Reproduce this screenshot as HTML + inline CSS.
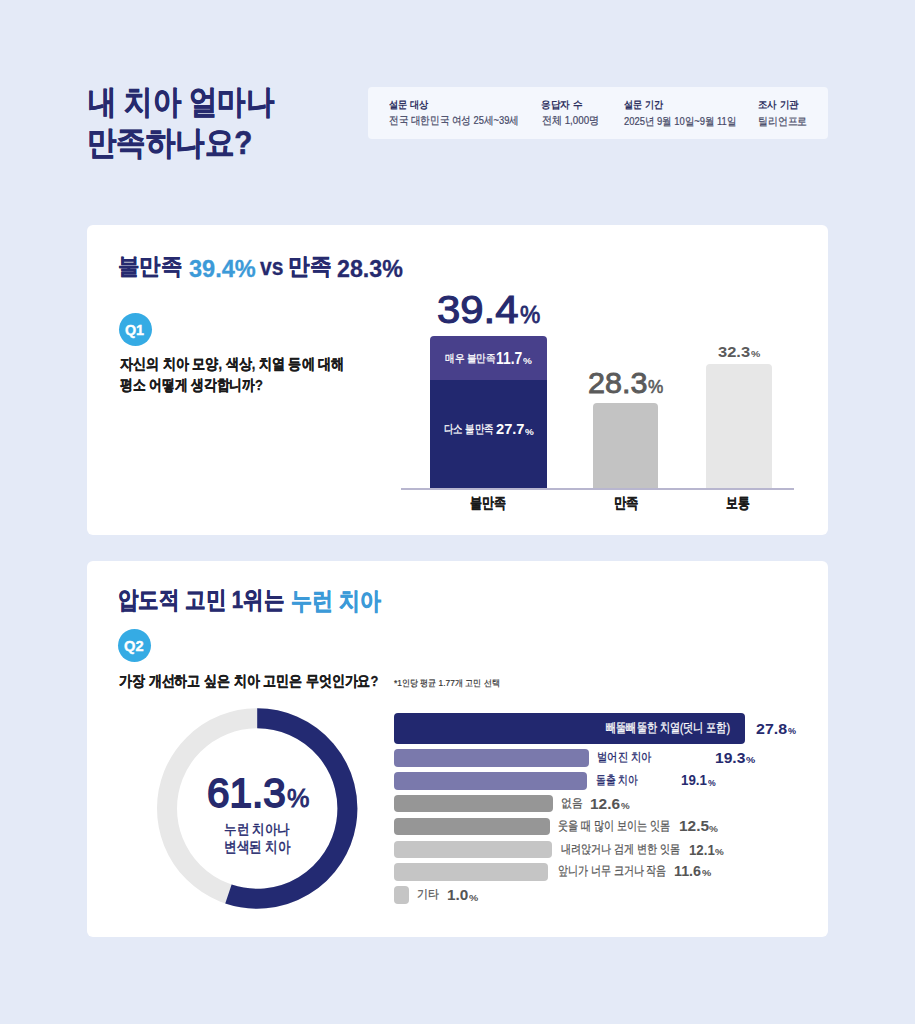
<!DOCTYPE html>
<html lang="ko"><head><meta charset="utf-8"><title>내 치아 얼마나 만족하나요?</title>
<style>
html,body{margin:0;padding:0}
body{width:915px;height:1024px;background:#e4eaf7;position:relative;overflow:hidden;font-family:"Liberation Sans",sans-serif}
.t div{position:absolute;line-height:1;white-space:nowrap;transform-origin:0 0}
</style></head><body>
<div style="position:absolute;left:368px;top:86.8px;width:460.00px;height:52.00px;background:#f4f7fd;border-radius:4px;"></div><div style="position:absolute;left:87px;top:225px;width:741.00px;height:310.00px;background:#ffffff;border-radius:6px;"></div><div style="position:absolute;left:87px;top:561px;width:741.00px;height:376.00px;background:#ffffff;border-radius:6px;"></div><div style="position:absolute;left:119px;top:313.3px;width:33.00px;height:33.00px;background:#35abe4;border-radius:50%;"></div><div style="position:absolute;left:117.6px;top:629.4px;width:33.00px;height:33.00px;background:#35abe4;border-radius:50%;"></div><div style="position:absolute;left:401.3px;top:488px;width:392.70px;height:2.00px;background:#b8b6cf;border-radius:0;"></div><div style="position:absolute;left:429.7px;top:336.4px;width:117.30px;height:43.20px;background:#48408b;border-radius:4px 4px 0 0;"></div><div style="position:absolute;left:429.7px;top:379.6px;width:117.30px;height:108.40px;background:#22286f;border-radius:0;"></div><div style="position:absolute;left:593px;top:402.9px;width:65.40px;height:85.10px;background:#c3c3c3;border-radius:4px 4px 0 0;"></div><div style="position:absolute;left:706.3px;top:363.5px;width:65.30px;height:124.50px;background:#e7e7e7;border-radius:4px 4px 0 0;"></div><div style="position:absolute;left:394.1px;top:713.4px;width:350.90px;height:30.40px;background:#22286f;border-radius:4px;"></div><div style="position:absolute;left:394.1px;top:749px;width:194.80px;height:17.80px;background:#7a79ac;border-radius:4px;"></div><div style="position:absolute;left:394.1px;top:772.3px;width:193.30px;height:17.40px;background:#7a79ac;border-radius:4px;"></div><div style="position:absolute;left:394.1px;top:794.8px;width:158.70px;height:17.70px;background:#969696;border-radius:4px;"></div><div style="position:absolute;left:394.1px;top:817.7px;width:155.90px;height:17.70px;background:#969696;border-radius:4px;"></div><div style="position:absolute;left:394.1px;top:840.5px;width:158.00px;height:17.70px;background:#c5c5c5;border-radius:4px;"></div><div style="position:absolute;left:394.1px;top:863.3px;width:154.40px;height:17.70px;background:#c5c5c5;border-radius:4px;"></div><div style="position:absolute;left:394.3px;top:886.3px;width:15.00px;height:17.50px;background:#c5c5c5;border-radius:4px;"></div>
<svg style="position:absolute;left:0;top:0" width="915" height="1024" viewBox="0 0 915 1024">
<circle cx="257.2" cy="808.5" r="90.2" fill="none" stroke="#e8e8e8" stroke-width="20"/>
<path d="M 257.2 718.3 A 90.2 90.2 0 1 1 228.43 893.99" fill="none" stroke="#232a72" stroke-width="20"/>
</svg>
<div class="t">
<div style="left:87.86px;top:85.23px;font-size:33.41px;transform:scaleX(0.860);font-weight:700;color:#262a6e;-webkit-text-stroke:0.6px #262a6e">내 치아 얼마나</div>
<div style="left:87.27px;top:125.85px;font-size:33.12px;transform:scaleX(0.893);font-weight:700;color:#262a6e;-webkit-text-stroke:0.6px #262a6e">만족하나요?</div>
<div style="left:388.51px;top:99.63px;font-size:10.38px;transform:scaleX(0.920);font-weight:700;color:#2d3060;-webkit-text-stroke:0px #2d3060">설문 대상</div>
<div style="left:388.69px;top:115.49px;font-size:10.67px;transform:scaleX(0.873);font-weight:400;color:#454866;-webkit-text-stroke:0.2px #454866">전국 대한민국 여성 25세~39세</div>
<div style="left:541.02px;top:99.63px;font-size:10.32px;transform:scaleX(0.964);font-weight:700;color:#2d3060;-webkit-text-stroke:0px #2d3060">응답자 수</div>
<div style="left:541.96px;top:115.48px;font-size:10.73px;transform:scaleX(0.909);font-weight:400;color:#454866;-webkit-text-stroke:0.2px #454866">전체 1,000명</div>
<div style="left:623.62px;top:99.63px;font-size:10.38px;transform:scaleX(0.910);font-weight:700;color:#2d3060;-webkit-text-stroke:0px #2d3060">설문 기간</div>
<div style="left:623.97px;top:116.09px;font-size:11.03px;transform:scaleX(0.856);font-weight:400;color:#454866;-webkit-text-stroke:0.2px #454866">2025년 9월 10일~9월 11일</div>
<div style="left:757.82px;top:99.63px;font-size:10.38px;transform:scaleX(0.949);font-weight:700;color:#2d3060;-webkit-text-stroke:0px #2d3060">조사 기관</div>
<div style="left:757.89px;top:116.12px;font-size:10.79px;transform:scaleX(0.894);font-weight:400;color:#454866;-webkit-text-stroke:0.2px #454866">틸리언프로</div>
<div style="left:118.49px;top:255.19px;font-size:23.33px;transform:scaleX(0.931);font-weight:700;color:#262a6e;-webkit-text-stroke:0.3px #262a6e">불만족</div>
<div style="left:188.51px;top:256.77px;font-size:24.51px;transform:scaleX(0.961);font-weight:700;color:#3c9ad8;-webkit-text-stroke:0.3px #3c9ad8">39.4%</div>
<div style="left:259.79px;top:255.28px;font-size:23.82px;transform:scaleX(0.883);font-weight:700;color:#262a6e;-webkit-text-stroke:0.3px #262a6e">vs</div>
<div style="left:287.82px;top:255.19px;font-size:23.33px;transform:scaleX(0.940);font-weight:700;color:#262a6e;-webkit-text-stroke:0.4px #262a6e">만족</div>
<div style="left:337.33px;top:256.77px;font-size:24.51px;transform:scaleX(0.948);font-weight:700;color:#262a6e;-webkit-text-stroke:0.3px #262a6e">28.3%</div>
<div style="left:125.17px;top:322.66px;font-size:14.56px;transform:scaleX(0.983);font-weight:700;color:#ffffff;-webkit-text-stroke:0.4px #ffffff">Q1</div>
<div style="left:119.67px;top:356.64px;font-size:14.73px;transform:scaleX(0.870);font-weight:700;color:#1b1b1b;-webkit-text-stroke:0.3px #1b1b1b">자신의 치아 모양, 색상, 치열 등에 대해</div>
<div style="left:119.68px;top:377.35px;font-size:15.32px;transform:scaleX(0.851);font-weight:700;color:#1b1b1b;-webkit-text-stroke:0.3px #1b1b1b">평소 어떻게 생각합니까?</div>
<div style="left:436.86px;top:291.20px;font-size:38.73px;transform:scaleX(1.081);font-weight:400;color:#262a6e;-webkit-text-stroke:1.1px #262a6e">39.4</div>
<div style="left:519.60px;top:302.83px;font-size:24.71px;transform:scaleX(0.924);font-weight:400;color:#262a6e;-webkit-text-stroke:0.8px #262a6e">%</div>
<div style="left:444.63px;top:352.65px;font-size:11.00px;transform:scaleX(0.871);font-weight:500;color:#ffffff;-webkit-text-stroke:0.3px #ffffff">매우 불만족</div>
<div style="left:496.20px;top:351.33px;font-size:15.65px;transform:scaleX(0.887);font-weight:700;color:#ffffff;-webkit-text-stroke:0px #ffffff">11.7</div>
<div style="left:523.15px;top:356.92px;font-size:8.51px;transform:scaleX(1.175);font-weight:700;color:#ffffff;-webkit-text-stroke:0px #ffffff">%</div>
<div style="left:443.96px;top:424.18px;font-size:11.56px;transform:scaleX(0.785);font-weight:500;color:#ffffff;-webkit-text-stroke:0.3px #ffffff">다소 불만족</div>
<div style="left:495.59px;top:421.28px;font-size:15.43px;transform:scaleX(0.949);font-weight:700;color:#ffffff;-webkit-text-stroke:0px #ffffff">27.7</div>
<div style="left:524.81px;top:428.14px;font-size:8.37px;transform:scaleX(1.178);font-weight:700;color:#ffffff;-webkit-text-stroke:0px #ffffff">%</div>
<div style="left:587.69px;top:368.27px;font-size:29.58px;transform:scaleX(1.031);font-weight:400;color:#5b5b5b;-webkit-text-stroke:0.9px #5b5b5b">28.3</div>
<div style="left:647.56px;top:378.37px;font-size:18.86px;transform:scaleX(0.911);font-weight:400;color:#5b5b5b;-webkit-text-stroke:0.6px #5b5b5b">%</div>
<div style="left:717.68px;top:344.37px;font-size:15.35px;transform:scaleX(1.073);font-weight:700;color:#5b5b5b;-webkit-text-stroke:0px #5b5b5b">32.3</div>
<div style="left:750.64px;top:350.06px;font-size:8.65px;transform:scaleX(1.211);font-weight:700;color:#5b5b5b;-webkit-text-stroke:0px #5b5b5b">%</div>
<div style="left:470.15px;top:495.63px;font-size:14.62px;transform:scaleX(0.802);font-weight:700;color:#1b1b1b;-webkit-text-stroke:0.25px #1b1b1b">불만족</div>
<div style="left:614.11px;top:495.63px;font-size:14.62px;transform:scaleX(0.822);font-weight:700;color:#1b1b1b;-webkit-text-stroke:0.25px #1b1b1b">만족</div>
<div style="left:726.14px;top:495.30px;font-size:15.03px;transform:scaleX(0.785);font-weight:700;color:#1b1b1b;-webkit-text-stroke:0.25px #1b1b1b">보통</div>
<div style="left:117.64px;top:588.44px;font-size:23.98px;transform:scaleX(0.853);font-weight:700;color:#262a6e;-webkit-text-stroke:0.6px #262a6e">압도적 고민 1위는</div>
<div style="left:290.73px;top:588.63px;font-size:24.11px;transform:scaleX(0.872);font-weight:700;color:#3c9ad8;-webkit-text-stroke:0.6px #3c9ad8">누런 치아</div>
<div style="left:124.22px;top:637.84px;font-size:15.06px;transform:scaleX(0.973);font-weight:700;color:#ffffff;-webkit-text-stroke:0.4px #ffffff">Q2</div>
<div style="left:118.62px;top:673.97px;font-size:14.92px;transform:scaleX(0.865);font-weight:700;color:#1b1b1b;-webkit-text-stroke:0.3px #1b1b1b">가장 개선하고 싶은 치아 고민은 무엇인가요?</div>
<div style="left:393.68px;top:678.85px;font-size:9.33px;transform:scaleX(0.892);font-weight:400;color:#333333;-webkit-text-stroke:0.2px #333333">*1인당 평균 1.77개 고민 선택</div>
<div style="left:207.23px;top:772.48px;font-size:41.55px;transform:scaleX(0.975);font-weight:400;color:#262a6e;-webkit-text-stroke:1.8px #262a6e">61.3</div>
<div style="left:286.50px;top:785.06px;font-size:26.29px;transform:scaleX(0.960);font-weight:400;color:#262a6e;-webkit-text-stroke:0.9px #262a6e">%</div>
<div style="left:224.38px;top:821.77px;font-size:14.04px;transform:scaleX(0.893);font-weight:500;color:#262a6e;-webkit-text-stroke:0.5px #262a6e">누런 치아나</div>
<div style="left:224.09px;top:840.10px;font-size:14.56px;transform:scaleX(0.839);font-weight:500;color:#262a6e;-webkit-text-stroke:0.5px #262a6e">변색된 치아</div>
<div style="left:605.85px;top:722.21px;font-size:12.50px;transform:scaleX(0.783);font-weight:500;color:#ffffff;-webkit-text-stroke:0.3px #ffffff">빼뚤빼뚤한 치열(덧니 포함)</div>
<div style="left:755.68px;top:721.92px;font-size:14.51px;transform:scaleX(1.102);font-weight:700;color:#262a6e;-webkit-text-stroke:0px #262a6e">27.8</div>
<div style="left:787.57px;top:728.21px;font-size:8.23px;transform:scaleX(1.100);font-weight:700;color:#262a6e;-webkit-text-stroke:0px #262a6e">%</div>
<div style="left:596.56px;top:750.94px;font-size:12.25px;transform:scaleX(0.859);font-weight:500;color:#262a6e;-webkit-text-stroke:0.3px #262a6e">벌어진 치아</div>
<div style="left:715.29px;top:750.19px;font-size:15.21px;transform:scaleX(1.026);font-weight:700;color:#262a6e;-webkit-text-stroke:0px #262a6e">19.3</div>
<div style="left:746.00px;top:755.68px;font-size:8.79px;transform:scaleX(1.178);font-weight:700;color:#262a6e;-webkit-text-stroke:0px #262a6e">%</div>
<div style="left:596.14px;top:773.78px;font-size:12.31px;transform:scaleX(0.820);font-weight:500;color:#262a6e;-webkit-text-stroke:0.3px #262a6e">돌출 치아</div>
<div style="left:681.43px;top:772.49px;font-size:15.21px;transform:scaleX(0.875);font-weight:700;color:#262a6e;-webkit-text-stroke:0px #262a6e">19.1</div>
<div style="left:707.76px;top:778.62px;font-size:8.51px;transform:scaleX(1.020);font-weight:700;color:#262a6e;-webkit-text-stroke:0px #262a6e">%</div>
<div style="left:560.83px;top:796.76px;font-size:12.00px;transform:scaleX(0.895);font-weight:500;color:#555555;-webkit-text-stroke:0.25px #555555">없음</div>
<div style="left:590.30px;top:797.54px;font-size:13.80px;transform:scaleX(1.119);font-weight:700;color:#555555;-webkit-text-stroke:0px #555555">12.6</div>
<div style="left:620.66px;top:801.72px;font-size:8.51px;transform:scaleX(1.147);font-weight:700;color:#555555;-webkit-text-stroke:0px #555555">%</div>
<div style="left:558.14px;top:820.39px;font-size:12.90px;transform:scaleX(0.776);font-weight:500;color:#555555;-webkit-text-stroke:0.25px #555555">웃을 때 많이 보이는 잇몸</div>
<div style="left:678.80px;top:819.50px;font-size:13.80px;transform:scaleX(1.117);font-weight:700;color:#555555;-webkit-text-stroke:0px #555555">12.5</div>
<div style="left:708.95px;top:824.62px;font-size:8.51px;transform:scaleX(1.175);font-weight:700;color:#555555;-webkit-text-stroke:0px #555555">%</div>
<div style="left:560.74px;top:844.05px;font-size:11.87px;transform:scaleX(0.838);font-weight:500;color:#555555;-webkit-text-stroke:0.25px #555555">내려앉거나 검게 변한 잇몸</div>
<div style="left:688.92px;top:842.87px;font-size:14.00px;transform:scaleX(0.945);font-weight:700;color:#555555;-webkit-text-stroke:0px #555555">12.1</div>
<div style="left:714.55px;top:847.72px;font-size:8.51px;transform:scaleX(1.161);font-weight:700;color:#555555;-webkit-text-stroke:0px #555555">%</div>
<div style="left:557.71px;top:865.18px;font-size:12.67px;transform:scaleX(0.772);font-weight:500;color:#555555;-webkit-text-stroke:0.25px #555555">앞니가 너무 크거나 작음</div>
<div style="left:673.97px;top:865.24px;font-size:13.94px;transform:scaleX(1.026);font-weight:700;color:#555555;-webkit-text-stroke:0px #555555">11.6</div>
<div style="left:701.64px;top:869.24px;font-size:8.65px;transform:scaleX(1.211);font-weight:700;color:#555555;-webkit-text-stroke:0px #555555">%</div>
<div style="left:416.99px;top:888.29px;font-size:11.69px;transform:scaleX(0.912);font-weight:500;color:#555555;-webkit-text-stroke:0.25px #555555">기타</div>
<div style="left:446.80px;top:886.93px;font-size:15.07px;transform:scaleX(1.017);font-weight:700;color:#555555;-webkit-text-stroke:0px #555555">1.0</div>
<div style="left:468.82px;top:893.62px;font-size:8.51px;transform:scaleX(1.217);font-weight:700;color:#555555;-webkit-text-stroke:0px #555555">%</div>
</div>
</body></html>
